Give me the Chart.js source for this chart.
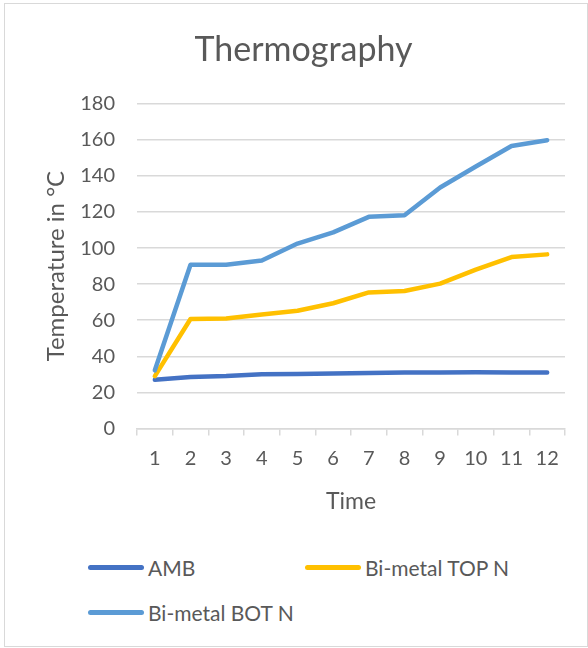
<!DOCTYPE html>
<html>
<head>
<meta charset="utf-8">
<script src="https://cdn.jsdelivr.net/npm/chart.js@4/dist/chart.umd.min.js"></script>
<style>
  body { margin: 0; background: #fff; font-family: Lato, sans-serif; }
  #box { position: absolute; left: 4px; top: 3px; width: 584px; height: 644px; border: 1px solid #d9d9d9; box-sizing: border-box; }
  #chart { position: absolute; left: 0; top: 0; }
  #legend { position: absolute; left: 0; top: 550px; width: 580px; }
  .item { position: absolute; display: flex; align-items: center; height: 26px; color: #595959; font-size: 21px; white-space: nowrap; }
  .swatch { width: 56px; height: 5px; border-radius: 3px; margin-right: 4px; }
</style>
</head>
<body>
<div id="box">
  <canvas id="chart" width="582" height="511"></canvas>
  <div id="legend"></div>
</div>
<script>
const times = ["1", "2", "3", "4", "5", "6", "7", "8", "9", "10", "11", "12"];
const amb = [27, 28.5, 29, 30, 30.2, 30.4, 30.7, 31, 31, 31.1, 31, 31];
const topN = [29, 60.7, 60.9, 63.2, 65.2, 69.4, 75.4, 76.2, 80.3, 88, 95, 96.5];
const botN = [32.2, 90.7, 90.8, 93.1, 102.5, 108.7, 117.3, 118.2, 133.6, 145.2, 156.6, 159.8];
const yTicks = [0, 20, 40, 60, 80, 100, 120, 140, 160, 180];

const seriesNames = ["AMB", "Bi-metal TOP N", "Bi-metal BOT N"];
const seriesColors = ["#4472C4", "#FFC000", "#5B9BD5"];
const seriesData = [amb, topN, botN];

const grey = "#595959";
const font = "Lato, sans-serif";

new Chart(document.getElementById("chart"), {
  type: "line",
  data: {
    labels: times,
    datasets: seriesNames.map((name, i) => ({
      label: name,
      data: seriesData[i],
      borderColor: seriesColors[i],
      backgroundColor: seriesColors[i],
      borderWidth: 4.5,
      pointRadius: 0,
      borderCapStyle: "round",
      borderJoinStyle: "round",
      tension: 0,
      order: seriesNames.length - i
    }))
  },
  options: {
    responsive: false,
    animation: false,
    layout: { padding: { left: 37, right: 22, top: 0, bottom: 0 } },
    plugins: {
      legend: { display: false },
      tooltip: { enabled: false },
      title: {
        display: true,
        text: "Thermography",
        color: grey,
        font: { family: font, size: 34, weight: "normal" },
        padding: { top: 26, bottom: 33 }
      }
    },
    scales: {
      x: {
        offset: true,
        grid: { offset: true, drawOnChartArea: false, drawTicks: true, tickLength: 7, color: "#d9d9d9", lineWidth: 1.5 },
        border: { color: "#d9d9d9", width: 1.5 },
        ticks: { color: grey, font: { family: font, size: 20 }, padding: 11, maxRotation: 0, autoSkip: false },
        title: { display: true, text: "Time", color: grey, font: { family: font, size: 23 }, padding: { top: 6, bottom: 0 } }
      },
      y: {
        min: 0,
        max: 180,
        afterBuildTicks: axis => { axis.ticks = yTicks.map(v => ({ value: v })); },
        afterFit: axis => { axis.width = 95; },
        grid: { color: "#d9d9d9", lineWidth: 1.5, drawTicks: false },
        border: { display: false },
        ticks: { color: grey, font: { family: font, size: 20 }, padding: 22 },
        title: { display: true, text: "Temperature in °C", color: grey, font: { family: font, size: 24 }, padding: { top: 0, bottom: 0 } }
      }
    }
  }
});

// legend laid out as in the original: two columns, wrapping rows
const legend = document.getElementById("legend");
const cols = [83, 300];
seriesNames.forEach((name, i) => {
  const item = document.createElement("div");
  item.className = "item";
  item.style.left = cols[i % 2] + "px";
  item.style.top = (Math.floor(i / 2) * 45) + "px";
  item.innerHTML = '<span class="swatch" style="background:' + seriesColors[i] + '"></span>' + name;
  legend.appendChild(item);
});
</script>
</body>
</html>
